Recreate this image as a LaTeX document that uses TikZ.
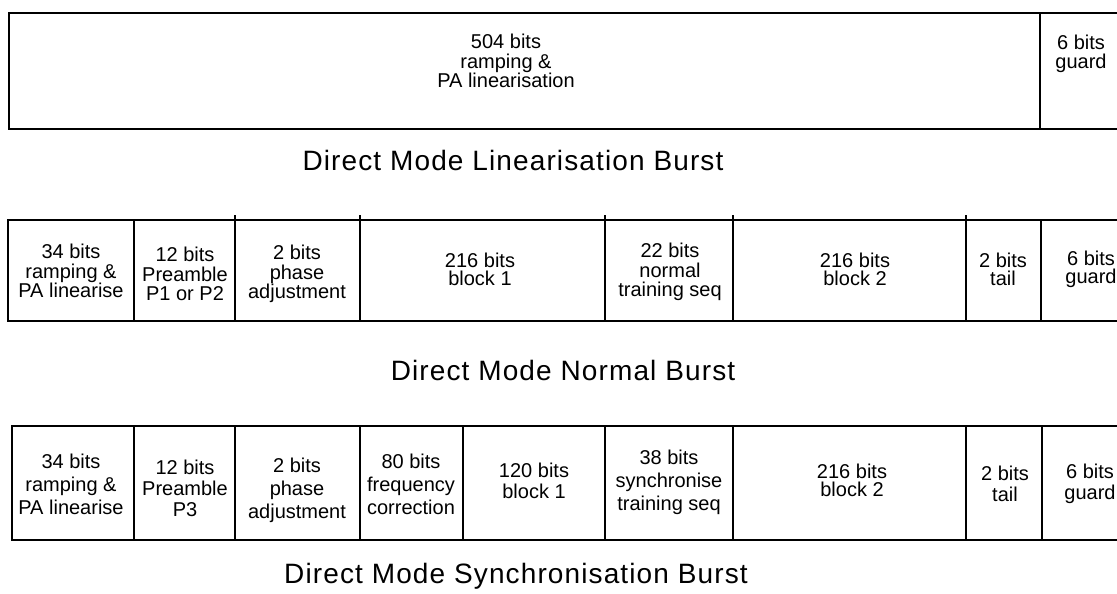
\documentclass[tikz,border=0pt]{standalone}
\usepackage{fontspec}
\setmainfont{Liberation Sans}
\newfontfamily\titlefont[LetterSpace=4]{Liberation Sans}
\begin{document}
\begin{tikzpicture}[x=1pt,y=-1pt,
  frame/.style={line width=2pt},
  sep/.style={line width=2pt},
  tick/.style={line width=1.6pt},
  lblA/.style={align=center,inner sep=0pt,font=\fontsize{20}{19.5}\selectfont},
  lblB/.style={align=center,inner sep=0pt,font=\fontsize{20}{18}\selectfont},
  lblC/.style={align=center,inner sep=0pt,font=\fontsize{20}{23}\selectfont},
  lblD/.style={align=center,inner sep=0pt,font=\fontsize{20}{21}\selectfont},
  title/.style={inner sep=0pt,font=\titlefont\fontsize{28}{30}\selectfont}]
\useasboundingbox (0,0) rectangle (1117,594);
\clip (0,0) rectangle (1117,594);
% ---------- Row 1 ----------
\draw[frame] (9,13) rectangle (1150,129);
\draw[sep] (1040,13) -- (1040,129);
\node[lblA] (r1a) at (506,61) {504 bits\\ramping \&\\PA linearisation};
\node[lblA] (r1b) at (1081,54) {6 bits\\guard};
\node[title] (t1) at (513,160) {Direct Mode Linearisation Burst};
% ---------- Row 2 ----------
\draw[frame] (8,220) rectangle (1150,321);
\foreach \x in {134,235,360,605,733,966,1041} \draw[sep] (\x,220) -- (\x,321);
\foreach \x in {235,360,605,733,966} \draw[tick] (\x,215) -- (\x,220);
\node[lblA] (r2a) at (71,271) {34 bits\\ramping \&\\PA linearise};
\node[lblA] (r2b) at (185,274) {12 bits\\Preamble\\P1 or P2};
\node[lblA] (r2c) at (297,274) {2 bits\\phase\\adjustment};
\node[lblB] (r2d) at (480,269) {216 bits\\block 1};
\node[lblA] (r2e) at (670,272) {22 bits\\normal\\training seq};
\node[lblB] (r2f) at (855,269) {216 bits\\block 2};
\node[lblB] (r2g) at (1003,269) {2 bits\\tail};
\node[lblB] (r2h) at (1091,269) {6 bits\\guard};
\node[title] (t2) at (563,370) {Direct Mode Normal Burst};
% ---------- Row 3 ----------
\draw[frame] (12,426) rectangle (1150,540);
\foreach \x in {134,235,360,463,605,733,966,1042} \draw[sep] (\x,426) -- (\x,540);
\node[lblC] (r3a) at (71,484) {34 bits\\ramping \&\\PA linearise};
\node[lblD] (r3b) at (185,488) {12 bits\\Preamble\\P3};
\node[lblC] (r3c) at (297,490) {2 bits\\phase\\adjustment};
\node[lblC] (r3d) at (411,484) {80 bits\\frequency\\correction};
\node[lblD] (r3e) at (534,481) {120 bits\\block 1};
\node[lblC] (r3f) at (669,482) {38 bits\\synchronise\\training seq};
\node[lblB] (r3g) at (852,480) {216 bits\\block 2};
\node[lblD] (r3h) at (1005,484) {2 bits\\tail};
\node[lblD] (r3i) at (1090,484) {6 bits\\guard};
\node[title] (t3) at (516,576) {Direct Mode Synchronisation Burst};
\end{tikzpicture}
\end{document}
